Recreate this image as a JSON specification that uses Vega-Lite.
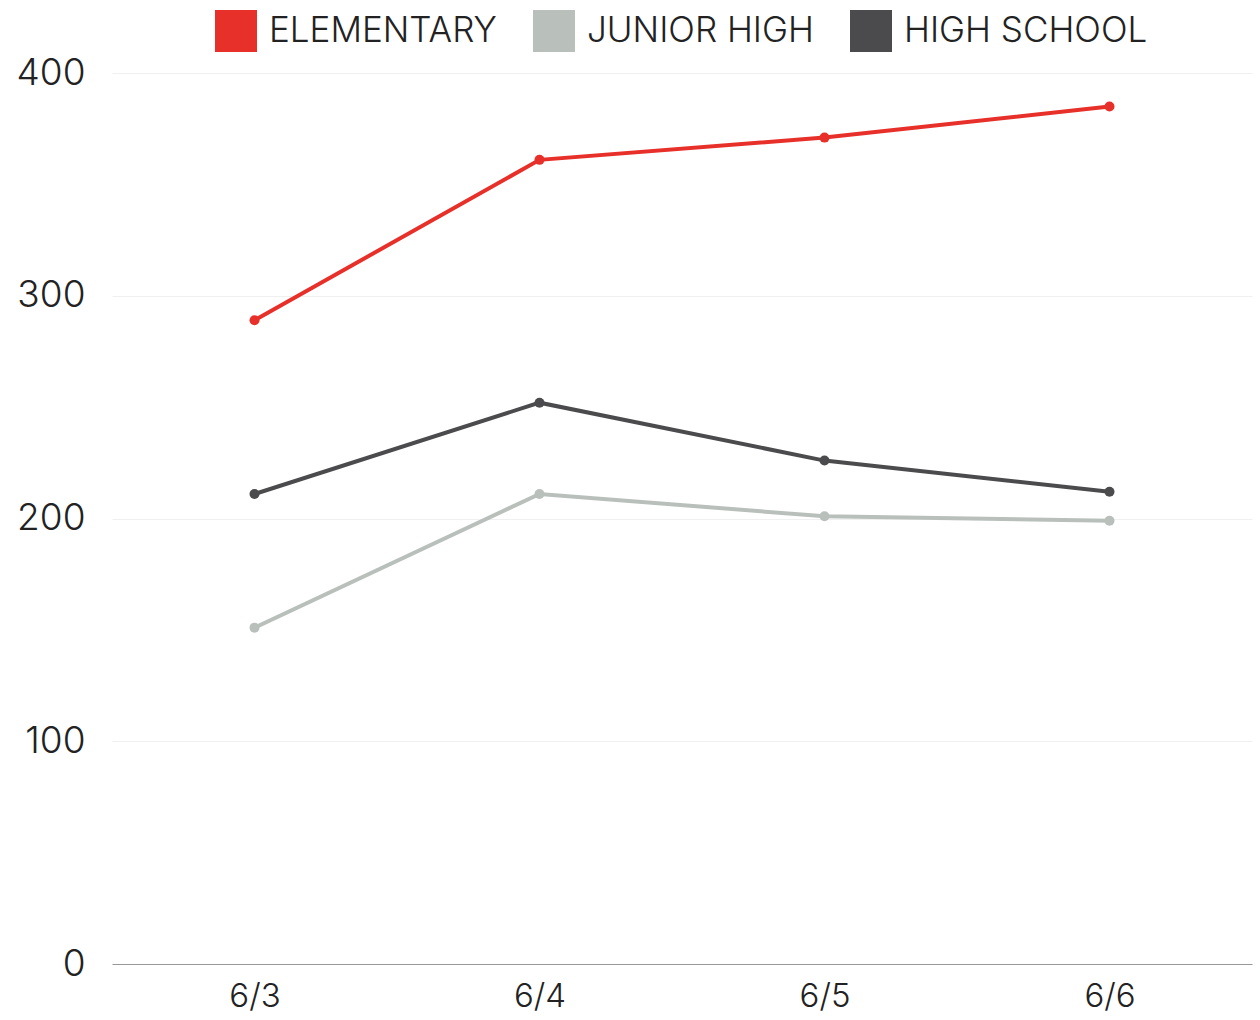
{
  "$schema": "https://vega.github.io/schema/vega-lite/v6.json",
  "width": 1140,
  "height": 891,
  "autosize": "none",
  "padding": {"left": 112, "top": 73, "right": 8, "bottom": 56},
  "background": "white",
  "config": {
    "font": "Inter",
    "view": {"stroke": null}
  },
  "data": {
    "values": [
      {"date": "6/3", "level": "ELEMENTARY", "value": 289},
      {"date": "6/4", "level": "ELEMENTARY", "value": 361},
      {"date": "6/5", "level": "ELEMENTARY", "value": 371},
      {"date": "6/6", "level": "ELEMENTARY", "value": 385},
      {"date": "6/3", "level": "JUNIOR HIGH", "value": 151},
      {"date": "6/4", "level": "JUNIOR HIGH", "value": 211},
      {"date": "6/5", "level": "JUNIOR HIGH", "value": 201},
      {"date": "6/6", "level": "JUNIOR HIGH", "value": 199},
      {"date": "6/3", "level": "HIGH SCHOOL", "value": 211},
      {"date": "6/4", "level": "HIGH SCHOOL", "value": 252},
      {"date": "6/5", "level": "HIGH SCHOOL", "value": 226},
      {"date": "6/6", "level": "HIGH SCHOOL", "value": 212}
    ]
  },
  "mark": {"type": "line", "strokeWidth": 4, "point": {"size": 100, "filled": true}},
  "encoding": {
    "x": {
      "field": "date", "type": "ordinal", "title": null,
      "scale": {"type": "point", "padding": 0.5},
      "axis": {"labelAngle": 0, "labelFontSize": 33, "labelFontWeight": 300, "labelColor": "#222", "labelPadding": 16, "ticks": false, "domainColor": "#999", "domainWidth": 1, "grid": false}
    },
    "y": {
      "field": "value", "type": "quantitative", "title": null,
      "scale": {"domain": [0, 400]},
      "axis": {"values": [0, 100, 200, 300, 400], "labelFontSize": 37, "labelFontWeight": 300, "labelColor": "#222", "labelPadding": 27, "ticks": false, "domain": false, "gridColor": "#f0f0f0", "gridWidth": 1}
    },
    "color": {
      "field": "level", "type": "nominal", "title": null,
      "scale": {"domain": ["ELEMENTARY", "JUNIOR HIGH", "HIGH SCHOOL"], "range": ["#e8302a", "#b9c0bc", "#4b4b4d"]},
      "legend": {
        "orient": "none", "legendX": 103, "legendY": -63, "direction": "horizontal",
        "symbolType": "square", "symbolSize": 1764, "symbolStrokeWidth": 0, "symbolOpacity": 1,
        "labelFontSize": 35, "labelFontWeight": 300, "labelColor": "#222", "labelOffset": 12, "labelLimit": 400, "columnPadding": 36
      }
    }
  }
}
